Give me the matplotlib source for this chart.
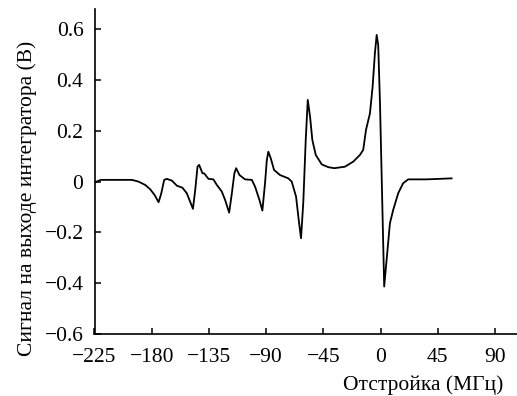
import matplotlib
matplotlib.use("Agg")
import matplotlib.pyplot as plt

detuning = [-224.4, -220.0, -195.5, -190.3, -185.1, -181.2, -177.8, -174.6, -172.5, -170.2,
            -168.1, -164.1, -160.2, -155.8, -152.4, -149.8, -147.6, -145.8, -144.0, -142.7,
            -140.1, -138.8, -135.4, -131.5, -128.8, -124.9, -122.3, -119.1, -117.0, -115.0,
            -113.6, -111.0, -106.6, -101.3, -98.7, -95.3, -93.0, -90.9, -89.5, -88.3,
            -86.4, -83.8, -79.1, -72.6, -69.9, -66.5, -64.4, -62.6, -60.8, -58.9,
            -57.3, -55.5, -53.7, -51.0, -46.3, -41.1, -36.4, -28.0, -21.5, -16.3,
            -13.7, -11.5, -8.4, -6.3, -4.5, -3.1, -1.9, -0.5, 1.3, 2.8,
            4.7, 7.3, 9.9, 13.8, 17.7, 21.7, 36.1, 55.8]
signal = [-0.002, 0.007, 0.007, 0.000, -0.013, -0.030, -0.052, -0.081, -0.046, 0.007,
          0.011, 0.004, -0.016, -0.024, -0.046, -0.079, -0.107, -0.033, 0.059, 0.066,
          0.033, 0.033, 0.011, 0.009, -0.013, -0.039, -0.072, -0.122, -0.046, 0.033,
          0.053, 0.026, 0.009, 0.007, -0.020, -0.072, -0.114, -0.006, 0.085, 0.118,
          0.092, 0.046, 0.026, 0.013, 0.000, -0.059, -0.151, -0.223, -0.080, 0.164,
          0.322, 0.256, 0.164, 0.105, 0.068, 0.057, 0.053, 0.059, 0.079, 0.105,
          0.125, 0.204, 0.269, 0.374, 0.506, 0.578, 0.538, 0.309, -0.085, -0.413,
          -0.308, -0.164, -0.111, -0.046, -0.006, 0.009, 0.009, 0.013]

xticks = [-225, -180, -135, -90, -45, 0, 45, 90]
yticks = [-0.6, -0.4, -0.2, 0, 0.2, 0.4, 0.6]
xticklabels = ["\u2212225", "\u2212180", "\u2212135", "\u221290", "\u221245", "0", "45", "90"]
yticklabels = ["\u22120.6", "\u22120.4", "\u22120.2", "0", "0.2", "0.4", "0.6"]

plt.rcParams['font.family'] = ['Liberation Serif', 'DejaVu Serif']
fig = plt.figure(figsize=(5.17, 3.96), dpi=100)
ax = fig.add_axes([94.5/517, 1 - 334/396, (516.7 - 94.5)/517, (334 - 9)/396])
ax.plot(detuning, signal, color='black', lw=1.3, solid_joinstyle='round')
ax.set_xlim(-225, 107)
ax.set_ylim(-0.6, 0.68)
ax.set_xticks(xticks)
ax.set_xticklabels(xticklabels)
ax.set_yticks(yticks)
ax.set_yticklabels(yticklabels)
for s in ['top', 'right']:
    ax.spines[s].set_visible(False)
for s in ['left', 'bottom']:
    ax.spines[s].set_linewidth(1.2)
ax.tick_params(direction='in', length=4.5, width=1.1, labelsize=15.5)
ax.tick_params(axis='x', pad=10)
ax.tick_params(axis='y', pad=8)
ax.set_xlabel("Отстройка (МГц)", fontsize=15.5, ha='right')
ax.xaxis.set_label_coords(0.9675, -0.127)
ax.set_ylabel("Сигнал на выходе интегратора (В)", fontsize=15.5)
ax.yaxis.set_label_coords(-0.136, 0.418)
fig.savefig("out.png", dpi=100)
